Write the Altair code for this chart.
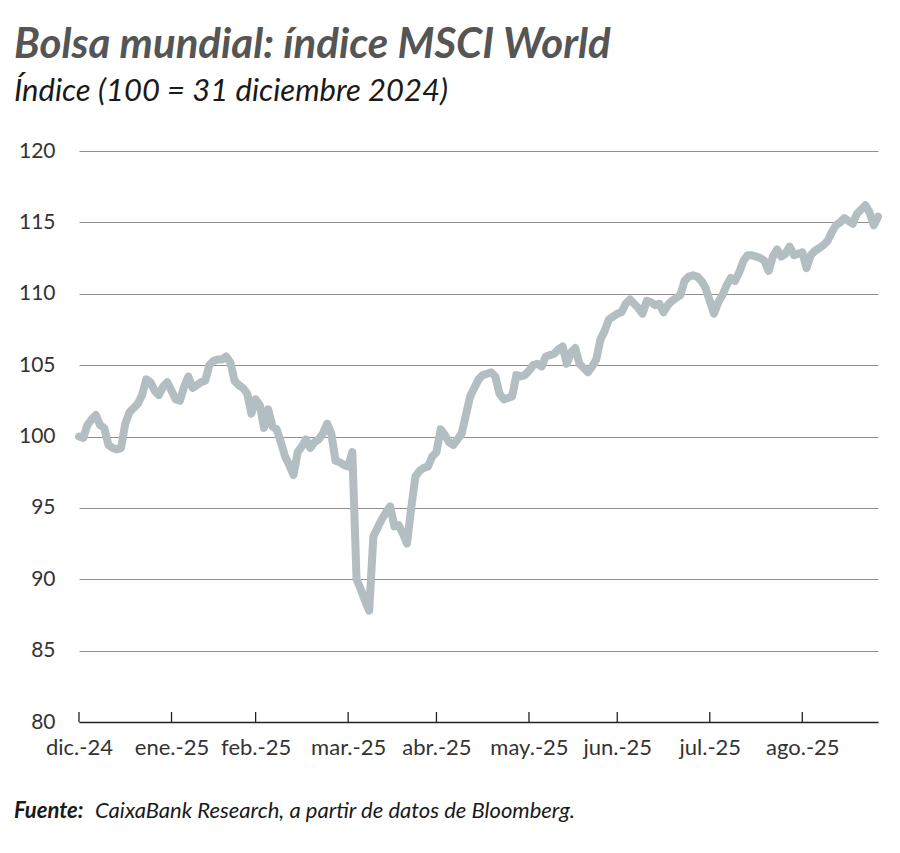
import altair as alt
import pandas as pd

# Trading-day index since 31-Dec-2024 and MSCI World index (100 = 31 Dec 2024)
values = [
    100.0, 99.9, 100.8, 101.2, 101.5, 100.8, 100.6, 99.4, 99.2, 99.1,
    99.2, 100.9, 101.7, 102.0, 102.3, 102.9, 104.0, 103.8, 103.2, 102.9,
    103.5, 103.8, 103.2, 102.6, 102.5, 103.5, 104.2, 103.4, 103.6, 103.8,
    103.9, 105.0, 105.3, 105.4, 105.4, 105.6, 105.2, 103.9, 103.6, 103.4,
    103.0, 101.6, 102.6, 102.2, 100.6, 101.9, 100.7, 100.5, 99.6, 98.6,
    98.0, 97.3, 98.9, 99.3, 99.8, 99.2, 99.6, 99.8, 100.2, 100.9,
    100.2, 98.3, 98.2, 98.0, 97.9, 98.9, 90.0, 89.3, 88.5, 87.8,
    93.0, 93.6, 94.2, 94.7, 95.1, 93.7, 93.8, 93.2, 92.5, 95.0,
    97.2, 97.6, 97.8, 97.9, 98.6, 98.9, 100.5, 100.1, 99.6, 99.4,
    99.8, 100.2, 101.5, 102.8, 103.4, 104.0, 104.3, 104.4, 104.5, 104.2,
    103.0, 102.6, 102.7, 102.8, 104.3, 104.2, 104.3, 104.6, 105.0, 105.1,
    104.9, 105.6, 105.7, 105.8, 106.1, 106.3, 105.1, 105.9, 106.2, 105.1,
    104.8, 104.5, 104.9, 105.4, 106.8, 107.4, 108.2, 108.4, 108.6, 108.7,
    109.3, 109.6, 109.3, 109.0, 108.6, 109.5, 109.4, 109.2, 109.3, 108.7,
    109.2, 109.5, 109.7, 109.9, 110.9, 111.2, 111.3, 111.2, 110.9, 110.4,
    109.5, 108.6, 109.4, 109.9, 110.6, 111.1, 110.9, 111.5, 112.3, 112.7,
    112.7, 112.6, 112.5, 112.3, 111.6, 112.6, 113.1, 112.6, 112.8, 113.3,
    112.7, 112.8, 112.9, 111.8, 112.7, 113.0, 113.2, 113.4, 113.7, 114.3,
    114.8, 115.0, 115.3, 115.1, 114.9, 115.6, 115.9, 116.2, 115.7, 114.8,
    115.4,
]
days = list(range(len(values)))

tick_days = [0, 22, 42, 64, 85, 107, 128, 150, 172]
tick_labels = ["dic.-24", "ene.-25", "feb.-25", "mar.-25", "abr.-25",
               "may.-25", "jun.-25", "jul.-25", "ago.-25"]
y_ticks = [80, 85, 90, 95, 100, 105, 110, 115, 120]

title_text = "Bolsa mundial: índice MSCI World"
subtitle_text = "Índice (100 = 31 diciembre 2024)"
source_bold = "Fuente:"
source_text = "CaixaBank Research, a partir de datos de Bloomberg."

FONT = "Lato"

df = pd.DataFrame({"day": days, "value": values})
ticks_df = pd.DataFrame({"day": tick_days, "y0": [80] * len(tick_days),
                         "y1": [80.7] * len(tick_days)})

label_expr = ""
for d, lab in zip(tick_days, tick_labels):
    label_expr += f"datum.value == {d} ? '{lab}' : "
label_expr += "''"

x_scale = alt.Scale(domain=[0, 190], nice=False, zero=False)
y_scale = alt.Scale(domain=[80, 120], nice=False, zero=False)

line = alt.Chart(df).mark_line(
    color="#b2bec1", strokeWidth=8, strokeJoin="round", strokeCap="round"
).encode(
    x=alt.X("day:Q", scale=x_scale, title=None,
            axis=alt.Axis(values=tick_days, labelExpr=label_expr, grid=False,
                          ticks=False, tickSize=0, domain=True,
                          domainColor="#222222", domainWidth=1.5,
                          labelFont=FONT, labelFontSize=22, labelColor="#333333",
                          labelPadding=15, labelOverlap=False, labelFlush=False)),
    y=alt.Y("value:Q", scale=y_scale, title=None,
            axis=alt.Axis(values=y_ticks, grid=True, gridColor="#8f8f8f",
                          gridWidth=1, domain=False, ticks=False, tickSize=0,
                          labelFont=FONT, labelFontSize=21, labelColor="#333333",
                          labelPadding=24)),
)

tick_rules = alt.Chart(ticks_df).mark_rule(color="#222222", strokeWidth=1.3).encode(
    x=alt.X("day:Q", scale=x_scale),
    y=alt.Y("y0:Q", scale=y_scale),
    y2="y1:Q",
)

def text_layer(txt, x, y, size, weight, color, style="italic"):
    return alt.Chart(pd.DataFrame({"t": [txt]})).mark_text(
        align="left", baseline="alphabetic", font=FONT, fontSize=size,
        fontWeight=weight, fontStyle=style, color=color
    ).encode(text="t:N", x=alt.value(x), y=alt.value(y))

title = text_layer(title_text, -65, -93, 42, "bold", "#555555")
subtitle = text_layer(subtitle_text, -65, -50, 31, "normal", "#1a1a1a")
src1 = text_layer(source_bold, -65, 667, 22, "bold", "#1a1a1a")
src2 = text_layer(source_text, 16, 667, 22, "normal", "#1a1a1a")

chart = alt.layer(line, tick_rules, title, subtitle, src1, src2).properties(
    width=799, height=571,
    autosize=alt.AutoSizeParams(type="none"),
    padding={"left": 71, "top": 143, "right": 14, "bottom": 100},
    background="white",
).configure_view(stroke=None)

chart.save("out.html", embed_options={"renderer": "svg", "actions": False})
